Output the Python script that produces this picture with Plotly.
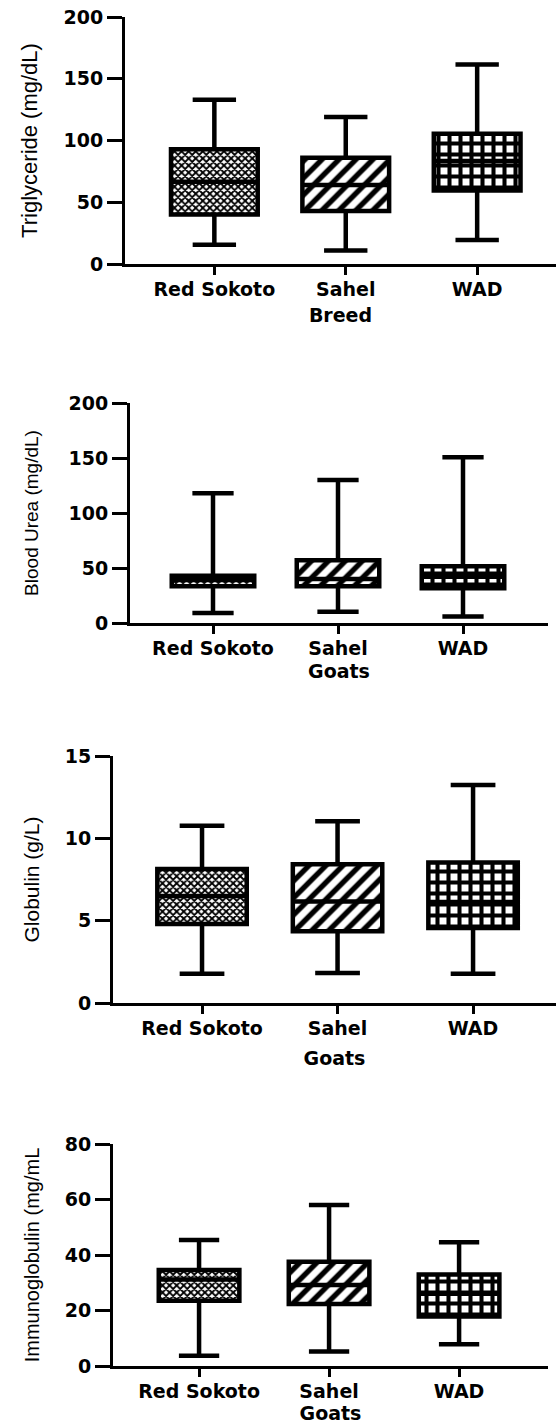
import plotly.graph_objects as go

categories = ["Red Sokoto", "Sahel", "WAD"]

# Triglyceride (mg/dL) by breed
tg_low = [15.6, 11.0, 19.5]
tg_q1 = [40.0, 43.0, 59.5]
tg_med = [66.5, 64.0, 83.5]
tg_q3 = [93.0, 86.0, 105.5]
tg_high = [133.0, 119.0, 161.5]

# Blood Urea (mg/dL)
bu_low = [9.0, 10.3, 5.8]
bu_q1 = [33.3, 33.3, 31.5]
bu_med = [39.0, 40.0, 42.0]
bu_q3 = [43.0, 57.0, 51.5]
bu_high = [118.0, 130.0, 150.6]

# Globulin (g/L)
gl_low = [1.78, 1.82, 1.78]
gl_q1 = [4.79, 4.35, 4.55]
gl_med = [6.5, 6.16, 6.13]
gl_q3 = [8.14, 8.43, 8.53]
gl_high = [10.77, 11.04, 13.24]

# Immunoglobulin (mg/mL)
ig_low = [3.7, 5.2, 7.8]
ig_q1 = [23.5, 22.3, 17.8]
ig_med = [31.2, 29.2, 26.0]
ig_q3 = [34.6, 37.6, 33.0]
ig_high = [45.4, 58.0, 44.6]

y_titles = ["Triglyceride (mg/dL)", "Blood Urea (mg/dL)", "Globulin (g/L)", "Immunoglobulin (mg/mL"]
x_titles = ["Breed", "Goats", "Goats", "Goats"]
y_ticks = [[0, 50, 100, 150, 200], [0, 50, 100, 150, 200], [0, 5, 10, 15], [0, 20, 40, 60, 80]]

W, H = 556, 1424

panels = [
    dict(low=tg_low, q1=tg_q1, med=tg_med, q3=tg_q3, high=tg_high,
         xpx=(125, 556), ypx=(17, 264), xr=[-0.68, 2.60], yr=[0, 200], bw=0.66,
         tsize=22, stand=20, xstand=10),
    dict(low=bu_low, q1=bu_q1, med=bu_med, q3=bu_q3, high=bu_high,
         xpx=(130, 548), ypx=(403, 623), xr=[-0.664, 2.68], yr=[0, 200], bw=0.66,
         tsize=19, stand=25, xstand=7),
    dict(low=gl_low, q1=gl_q1, med=gl_med, q3=gl_q3, high=gl_high,
         xpx=(113, 556), ypx=(756, 1003), xr=[-0.657, 2.612], yr=[0, 15], bw=0.66,
         tsize=21, stand=20, xstand=14),
    dict(low=ig_low, q1=ig_q1, med=ig_med, q3=ig_q3, high=ig_high,
         xpx=(113, 548), ypx=(1144, 1366), xr=[-0.662, 2.684], yr=[0, 80], bw=0.62,
         tsize=20, stand=20, xstand=3),
]

tick_font = dict(family="DejaVu Sans", size=19, color="black", weight="bold")
xtitle_font = dict(family="DejaVu Sans", size=19, color="black", weight="bold")

fig = go.Figure()
layout = {}
for i, p in enumerate(panels):
    n = "" if i == 0 else str(i + 1)
    xa, ya = "x" + n, "y" + n
    heights = [b - a for a, b in zip(p["q1"], p["q3"])]
    fig.add_trace(go.Bar(
        x=categories, y=heights, base=p["q1"], width=p["bw"],
        xaxis=xa, yaxis=ya, showlegend=False, hoverinfo="skip",
        marker=dict(color="white", line=dict(width=0),
                    pattern=dict(shape=["x", "/", "+"], size=[5, 12, 11],
                                 solidity=[0.6, 0.45, 0.6],
                                 fgcolor="black", bgcolor="white", fillmode="replace")),
    ))
    fig.add_trace(go.Box(
        x=categories, q1=p["q1"], median=p["med"], q3=p["q3"],
        lowerfence=p["low"], upperfence=p["high"], width=p["bw"],
        whiskerwidth=0.5, boxpoints=False,
        fillcolor="rgba(0,0,0,0)", line=dict(color="black", width=4.5),
        xaxis=xa, yaxis=ya, showlegend=False, hoverinfo="skip",
    ))
    layout["xaxis" + n] = dict(
        domain=[p["xpx"][0] / W, p["xpx"][1] / W], anchor=ya, type="category",
        range=p["xr"], showline=True, linecolor="black", linewidth=3,
        ticks="outside", ticklen=8, tickwidth=3, tickcolor="black",
        tickfont=tick_font, showgrid=False, zeroline=False, automargin=False,
        ticklabelstandoff=-2,
        title=dict(text=x_titles[i], font=xtitle_font, standoff=p["xstand"]),
    )
    layout["yaxis" + n] = dict(
        domain=[1 - p["ypx"][1] / H, 1 - p["ypx"][0] / H], anchor=xa,
        range=p["yr"], tickvals=y_ticks[i], showline=True, linecolor="black",
        linewidth=3, ticks="outside", ticklen=15, tickwidth=3, tickcolor="black",
        tickfont=tick_font, showgrid=False, zeroline=False, automargin=False,
        title=dict(text=y_titles[i], standoff=p["stand"],
                   font=dict(family="Liberation Sans, Arial, sans-serif", size=p["tsize"], color="black")),
    )

fig.update_layout(
    width=W, height=H, margin=dict(l=0, r=0, t=0, b=0),
    paper_bgcolor="white", plot_bgcolor="white", showlegend=False,
    **layout,
)

fig.write_html("out.html", config={"displayModeBar": False},
               post_script="document.body.style.margin='0';document.body.style.overflow='hidden';")
